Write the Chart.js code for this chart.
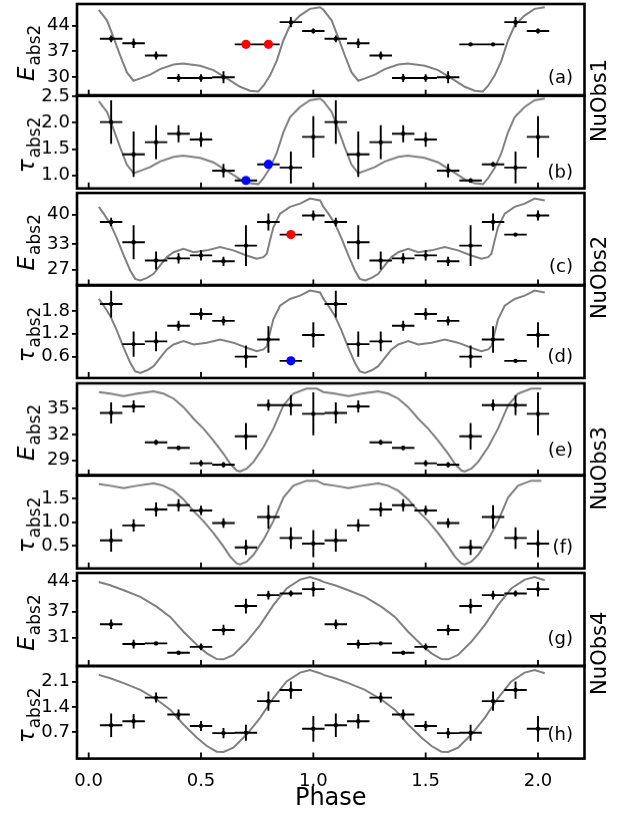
<!DOCTYPE html>
<html>
<head>
<meta charset="utf-8">
<script src="https://cdn.jsdelivr.net/npm/chart.js@4.4.0/dist/chart.umd.min.js"></script>
<style>
  body { margin: 0; width: 630px; height: 813px; background: #fff; position: relative; overflow: hidden; }
  .box { position: absolute; left: 0; width: 630px; }
</style>
</head>
<body>
<script>
// phase bins (centre of each bin), repeated for a second cycle
var phase = [0.1, 0.2, 0.3, 0.4, 0.5, 0.6, 0.7, 0.8, 0.9, 1.0];
var halfBin = 0.05;
var xTicks = [0, 0.5, 1, 1.5, 2];

// normalised pulse profiles, one cycle each
var prof1Phase = [0.045,0.082,0.11,0.14,0.17,0.2,0.23,0.274,0.318,0.378,0.42,0.496,0.555,0.615,0.674,0.718,0.755,0.778,0.807,0.837,0.866,0.896,0.94,0.985,1.03];
var prof1 = [0.937,0.82,0.64,0.44,0.255,0.164,0.19,0.23,0.29,0.34,0.353,0.328,0.28,0.19,0.098,0.055,0.047,0.11,0.22,0.38,0.6,0.765,0.874,0.947,0.965];
var prof2Phase = [0.045,0.067,0.096,0.126,0.156,0.185,0.207,0.23,0.26,0.289,0.318,0.348,0.378,0.422,0.467,0.526,0.585,0.644,0.703,0.748,0.778,0.793,0.807,0.822,0.852,0.896,0.941,0.985,1.03];
var prof2 = [0.85,0.777,0.668,0.506,0.325,0.163,0.072,0.054,0.083,0.127,0.217,0.307,0.36,0.397,0.36,0.38,0.415,0.38,0.325,0.289,0.307,0.343,0.487,0.63,0.777,0.85,0.885,0.94,0.92];
var prof3Phase = [0.045,0.096,0.156,0.215,0.289,0.333,0.378,0.422,0.467,0.511,0.555,0.6,0.63,0.659,0.674,0.703,0.733,0.778,0.822,0.867,0.911,0.97,1.015];
var prof3 = [0.905,0.888,0.862,0.888,0.913,0.888,0.834,0.742,0.616,0.508,0.38,0.236,0.127,0.054,0.043,0.073,0.145,0.308,0.508,0.761,0.888,0.942,0.942];
var prof4Phase = [0.045,0.096,0.156,0.23,0.304,0.363,0.422,0.482,0.526,0.57,0.6,0.644,0.703,0.763,0.822,0.881,0.941,0.985,1.03];
var prof4 = [0.904,0.868,0.815,0.743,0.636,0.528,0.368,0.225,0.136,0.075,0.072,0.118,0.26,0.44,0.654,0.833,0.929,0.957,0.922];

// E_abs2 and tau_abs2 per observation, with 1-sigma errors
var eAbs1 = [40.4, 39.2, 35.9, 29.8, 29.8, 30.0, 38.9, 38.9, 44.9, 42.5];
var eAbs1Err = [0.9, 1.3, 1.1, 1.1, 1.0, 1.6, 0.3, 0.3, 1.4, 0.7];
var tAbs1 = [2.01, 1.40, 1.63, 1.79, 1.68, 1.09, 0.905, 1.21, 1.15, 1.73];
var tAbs1Err = [0.41, 0.43, 0.32, 0.16, 0.14, 0.13, 0.04, 0.04, 0.30, 0.39];
var eAbs2 = [38.25, 33.5, 29.2, 29.7, 30.4, 29.0, 32.7, 38.25, 35.3, 39.8];
var eAbs2Err = [1.0, 4.0, 2.1, 1.2, 1.2, 1.1, 4.8, 2.0, 0.3, 1.2];
var tAbs2 = [1.98, 0.93, 1.00, 1.41, 1.72, 1.54, 0.60, 1.05, 0.49, 1.17];
var tAbs2Err = [0.35, 0.33, 0.26, 0.13, 0.15, 0.12, 0.29, 0.35, 0.03, 0.33];
var eAbs3 = [34.5, 35.27, 31.1, 30.45, 28.67, 28.5, 31.8, 35.4, 35.4, 34.4];
var eAbs3Err = [1.22, 0.7, 0.3, 0.25, 0.35, 0.3, 1.55, 0.64, 1.16, 2.5];
var tAbs3 = [0.61, 0.93, 1.27, 1.36, 1.25, 0.98, 0.46, 1.11, 0.66, 0.54];
var tAbs3Err = [0.24, 0.13, 0.15, 0.13, 0.10, 0.10, 0.16, 0.25, 0.23, 0.29];
var eAbs4 = [34.1, 29.55, 29.7, 27.55, 28.9, 32.8, 38.3, 40.8, 41.2, 42.2];
var eAbs4Err = [1.1, 1.0, 0.2, 0.4, 0.8, 1.2, 1.7, 1.0, 0.7, 1.7];
var tAbs4 = [0.89, 1.0, 1.66, 1.19, 0.87, 0.67, 0.68, 1.56, 1.87, 0.79];
var tAbs4Err = [0.33, 0.2, 0.14, 0.14, 0.14, 0.14, 0.22, 0.27, 0.24, 0.36];

// highlighted bins (first cycle only)
var hi1 = [6, 7];
var hi2 = [8];

// y tick values
var tickE1 = [30, 37, 44];
var tickT1 = [1.0, 1.5, 2.0, 2.5];
var tickE2 = [27, 33, 40];
var tickT2 = [0.6, 1.2, 1.8];
var tickE3 = [29, 32, 35];
var tickT3 = [0.5, 1.0, 1.5];
var tickE4 = [31, 37, 44];
var tickT4 = [0.7, 1.4, 2.1];

var FONT = '"DejaVu Sans"';
var LEFT = 77, RIGHT = 584.5, PAD = 50;

var panels = [
  {vals: eAbs1, errs: eAbs1Err, prof: [prof1Phase, prof1], ticks: tickE1, dec: 0, range: [25.0, 49.8], sym: 'E', hi: hi1, hiColor: '#ff0000', letter: '(a)', top: 3.5, bottom: 95.3, letterOff: 17, obs: 'NuObs1', obsY: 100},
  {vals: tAbs1, errs: tAbs1Err, prof: [prof1Phase, prof1], ticks: tickT1, dec: 1, range: [0.754, 2.517], sym: 'τ', hi: hi1, hiColor: '#0000ff', letter: '(b)', top: 95.3, bottom: 188, letterOff: 15},
  {vals: eAbs2, errs: eAbs2Err, prof: [prof2Phase, prof2], ticks: tickE2, dec: 0, range: [23.3, 45.1], sym: 'E', hi: hi2, hiColor: '#ff0000', letter: '(c)', top: 192.5, bottom: 285, letterOff: 18, obs: 'NuObs2', obsY: 277},
  {vals: tAbs2, errs: tAbs2Err, prof: [prof2Phase, prof2], ticks: tickT2, dec: 1, range: [0.04, 2.48], sym: 'τ', hi: hi2, hiColor: '#0000ff', letter: '(d)', top: 285, bottom: 378, letterOff: 21},
  {vals: eAbs3, errs: eAbs3Err, prof: [prof3Phase, prof3], ticks: tickE3, dec: 0, range: [27.26, 37.94], sym: 'E', hi: [], letter: '(e)', top: 383.3, bottom: 475, letterOff: 24, obs: 'NuObs3', obsY: 468},
  {vals: tAbs3, errs: tAbs3Err, prof: [prof3Phase, prof3], ticks: tickT3, dec: 1, range: [0.01, 2.0], sym: 'τ', hi: [], letter: '(f)', top: 475, bottom: 567.7, letterOff: 20},
  {vals: eAbs4, errs: eAbs4Err, prof: [prof4Phase, prof4], ticks: tickE4, dec: 0, range: [24.5, 45.9], sym: 'E', hi: [], letter: '(g)', top: 572.7, bottom: 665.7, letterOff: 27, obs: 'NuObs4', obsY: 653},
  {vals: tAbs4, errs: tAbs4Err, prof: [prof4Phase, prof4], ticks: tickT4, dec: 1, range: [-0.04, 2.54], sym: 'τ', hi: [], letter: '(h)', top: 665.7, bottom: 758.3, letterOff: 23}
];

function decorPlugin(p) {
  return {
    id: 'decor',
    afterDatasetDraw: function(chart, args) {
      if (args.index !== 0) return;
      // error bars, drawn over the profile and under the markers
      var ctx = chart.ctx, x = chart.scales.x, y = chart.scales.y;
      ctx.save();
      ctx.strokeStyle = '#000';
      ctx.lineWidth = 1.9;
      ctx.beginPath();
      chart.data.datasets[1].data.forEach(function(d) {
        var px = x.getPixelForValue(d.x), py = y.getPixelForValue(d.y);
        ctx.moveTo(x.getPixelForValue(d.x - d.xe), py);
        ctx.lineTo(x.getPixelForValue(d.x + d.xe), py);
        ctx.moveTo(px, y.getPixelForValue(d.y - d.ye));
        ctx.lineTo(px, y.getPixelForValue(d.y + d.ye));
      });
      ctx.stroke();
      ctx.restore();
    },
    afterDraw: function(chart) {
      var ctx = chart.ctx, a = chart.chartArea, x = chart.scales.x;
      ctx.save();
      // inward x ticks
      ctx.strokeStyle = '#000';
      ctx.lineWidth = 1.8;
      ctx.beginPath();
      xTicks.forEach(function(v) {
        var px = x.getPixelForValue(v);
        ctx.moveTo(px, a.bottom);
        ctx.lineTo(px, a.bottom - 6);
      });
      ctx.stroke();
      // frame
      ctx.lineWidth = 2.6;
      ctx.strokeRect(a.left, a.top, a.right - a.left, a.bottom - a.top);
      ctx.fillStyle = '#000';
      // panel letter
      ctx.font = '18px ' + FONT;
      ctx.textAlign = 'right';
      ctx.textBaseline = 'middle';
      ctx.fillText(p.letter, 573, a.bottom - p.letterOff);
      // observation label
      if (p.obs) {
        ctx.save();
        ctx.translate(606, a.top + (p.obsY - p.top));
        ctx.rotate(-Math.PI / 2);
        ctx.font = '21px ' + FONT;
        ctx.textAlign = 'center';
        ctx.textBaseline = 'alphabetic';
        ctx.fillText(p.obs, 0, 0);
        ctx.restore();
      }
      // y title: symbol with subscript
      ctx.translate(33.5, (a.top + a.bottom) / 2 + 3);
      ctx.rotate(-Math.PI / 2);
      ctx.textAlign = 'left';
      ctx.textBaseline = 'alphabetic';
      var mainFont = 'italic 23px ' + FONT, subFont = '17px ' + FONT;
      ctx.font = mainFont;
      var wm = ctx.measureText(p.sym).width;
      ctx.font = subFont;
      var ws = ctx.measureText('abs2').width;
      var x0 = -(wm + ws + 1) / 2;
      ctx.font = mainFont;
      ctx.fillText(p.sym, x0, 0);
      ctx.font = subFont;
      ctx.fillText('abs2', x0 + wm + 1, 6.5);
      ctx.restore();
    }
  };
}

panels.forEach(function(p, i) {
  var last = i === panels.length - 1;
  var below = last ? 813 - p.bottom : PAD;
  var div = document.createElement('div');
  div.className = 'box';
  div.style.top = (p.top - PAD) + 'px';
  div.style.height = (p.bottom - p.top + PAD + below) + 'px';
  var cv = document.createElement('canvas');
  div.appendChild(cv);
  document.body.appendChild(div);

  var pts = [], hiPts = [], prof = [];
  [0, 1].forEach(function(c) {
    phase.forEach(function(ph, k) {
      pts.push({x: ph + c, y: p.vals[k], xe: halfBin, ye: p.errs[k]});
    });
    p.prof[0].forEach(function(ph, k) {
      prof.push({x: ph + c, y: p.prof[1][k]});
    });
  });
  p.hi.forEach(function(k) { hiPts.push({x: phase[k], y: p.vals[k]}); });

  new Chart(cv, {
    type: 'scatter',
    data: {
      datasets: [
        {data: prof, yAxisID: 'y2', showLine: true, borderColor: '#808080', borderWidth: 2, pointRadius: 0, order: 3},
        {data: pts, yAxisID: 'y', pointRadius: 2.2, pointBackgroundColor: '#000', pointBorderWidth: 0, order: 2},
        {data: hiPts, yAxisID: 'y', pointRadius: 4.6, pointBackgroundColor: p.hiColor || '#000', pointBorderWidth: 0, order: 1}
      ]
    },
    options: {
      responsive: true,
      maintainAspectRatio: false,
      animation: false,
      events: [],
      layout: {padding: {left: 0, right: 630 - RIGHT, top: PAD, bottom: last ? 0 : PAD}},
      plugins: {legend: {display: false}, tooltip: {enabled: false}},
      scales: {
        x: {
          type: 'linear', min: -0.052, max: 2.207, display: last,
          grid: {display: false}, border: {display: false},
          afterBuildTicks: function(s) { s.ticks = xTicks.map(function(v) { return {value: v}; }); },
          afterFit: function(s) { if (last) s.height = 813 - p.bottom; },
          ticks: {color: '#000', padding: 4, font: {family: 'DejaVu Sans', size: 18}, maxRotation: 0,
                  callback: function(v) { return v.toFixed(1); }},
          title: {display: last, text: 'Phase', color: '#000', padding: {top: 0, bottom: 0},
                  font: {family: 'DejaVu Sans', size: 24}}
        },
        y: {
          type: 'linear', position: 'left', min: p.range[0], max: p.range[1],
          grid: {drawOnChartArea: false, drawTicks: true, tickLength: 5, color: '#000', lineWidth: 1.8},
          border: {display: false},
          afterBuildTicks: function(s) { s.ticks = p.ticks.map(function(v) { return {value: v}; }); },
          afterFit: function(s) { s.width = LEFT; },
          ticks: {color: '#000', padding: 2, font: {family: 'DejaVu Sans', size: 18},
                  callback: function(v) { return v.toFixed(p.dec); }}
        },
        y2: {type: 'linear', position: 'right', display: false, min: 0, max: 1}
      }
    },
    plugins: [decorPlugin(p)]
  });
});
</script>
</body>
</html>
